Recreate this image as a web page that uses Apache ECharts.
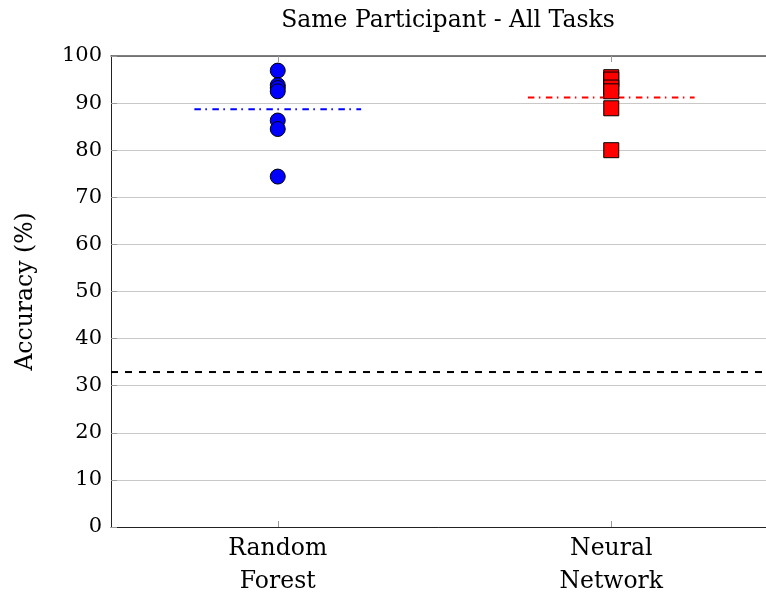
<!DOCTYPE html>
<html>
<head>
<meta charset="utf-8">
<script src="https://cdn.jsdelivr.net/npm/echarts@6/dist/echarts.min.js"></script>
<style>html,body{margin:0;padding:0;background:#fff;}#c{width:766px;height:596px;}</style>
</head>
<body>
<div id="c"></div>
<script>
const categories = ['Random\nForest', 'Neural\nNetwork'];
const categoryPos = [1, 2];
const randomForest = [96.9, 93.8, 93.2, 92.5, 86.3, 84.5, 74.4];
const neuralNetwork = [95.5, 95.0, 93.3, 92.5, 88.9, 80.0];
const meanRF = 88.7;
const meanNN = 91.2;
const chanceLevel = 32.9;
const yTicks = [0, 10, 20, 30, 40, 50, 60, 70, 80, 90, 100];

const FONT = 'DejaVu Serif';
const chart = echarts.init(document.getElementById('c'));
chart.setOption({
  animation: false,
  title: {
    text: 'Same Participant - All Tasks', left: 443, top: 4, textAlign: 'center',
    textStyle: { fontFamily: FONT, fontSize: 23.5, fontWeight: 'normal', color: '#000' }
  },
  grid: { left: 111, right: -12, top: 56, bottom: 69, outerBoundsMode: 'none', containLabel: false },
  xAxis: [{
    type: 'value', min: 0.5, max: 2.5, position: 'bottom',
    axisLine: { show: true, onZero: false, lineStyle: { color: '#222', width: 1 } },
    axisTick: { show: true, inside: true, length: 6, customValues: categoryPos, lineStyle: { color: '#999' } },
    axisLabel: { customValues: categoryPos, fontFamily: FONT, fontSize: 23.5, color: '#000', lineHeight: 33, margin: 5,
      formatter: v => categories[categoryPos.indexOf(v)] || '' },
    splitLine: { show: false }
  }, {
    type: 'value', min: 0.5, max: 2.5, position: 'top',
    axisLine: { show: true, onZero: false, lineStyle: { color: '#555', width: 1.5 } },
    axisTick: { show: true, inside: true, length: 6, customValues: categoryPos, lineStyle: { color: '#999' } },
    axisLabel: { show: false }, splitLine: { show: false }
  }],
  yAxis: {
    type: 'value', min: 0, max: 100, interval: 10,
    name: 'Accuracy (%)', nameLocation: 'middle', nameGap: 73, nameRotate: 90,
    nameTextStyle: { fontFamily: FONT, fontSize: 23.5, color: '#000' },
    axisLine: { show: true, lineStyle: { color: '#222', width: 1 } },
    axisTick: { show: true, inside: true, length: 6, lineStyle: { color: '#999' } },
    axisLabel: { fontFamily: FONT, fontSize: 21, color: '#000', margin: 9,
      formatter: v => yTicks.includes(v) ? String(v) : '' },
    splitLine: { show: true, lineStyle: { color: '#c8c8c8', width: 1 } }
  },
  series: [
    {
      type: 'line', data: [[0.5, chanceLevel], [2.5, chanceLevel]], symbol: 'none', silent: true,
      lineStyle: { color: '#000', width: 2, type: [7, 7] }, z: 1
    },
    {
      type: 'line', data: [[categoryPos[0] - 0.25, meanRF], [categoryPos[0] + 0.25, meanRF]], symbol: 'none',
      lineStyle: { color: '#0000ff', width: 2, type: [6.5, 4.5, 1.5, 5.5] }, z: 2
    },
    {
      type: 'line', data: [[categoryPos[1] - 0.25, meanNN], [categoryPos[1] + 0.25, meanNN]], symbol: 'none',
      lineStyle: { color: '#ff0000', width: 2, type: [6.5, 4.5, 1.5, 5.5] }, z: 2
    },
    {
      type: 'scatter', data: randomForest.map(v => [categoryPos[0], v]), symbol: 'circle', symbolSize: 15,
      itemStyle: { color: '#0000ff', borderColor: '#000', borderWidth: 1, opacity: 1 }, z: 3
    },
    {
      type: 'scatter', data: neuralNetwork.map(v => [categoryPos[1], v]), symbol: 'rect', symbolSize: 15,
      itemStyle: { color: '#ff0000', borderColor: '#000', borderWidth: 1, opacity: 1 }, z: 3
    }
  ]
});
</script>
</body>
</html>
